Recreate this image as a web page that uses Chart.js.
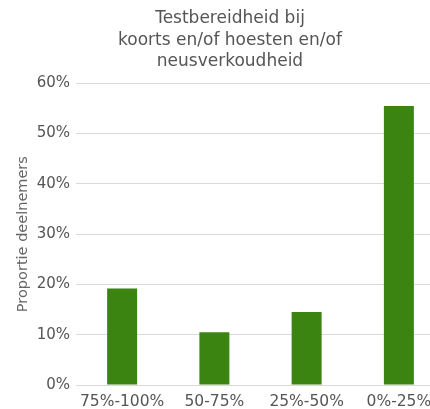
<!DOCTYPE html>
<html lang="nl">
<head>
<meta charset="UTF-8">
<title>Testbereidheid</title>
<script src="https://cdn.jsdelivr.net/npm/chart.js"></script>
<style>
  html, body { margin: 0; padding: 0; background: #fff; overflow: hidden; }
  #wrap { width: 445px; height: 409px; }
</style>
</head>
<body>
<div id="wrap"><canvas id="chart"></canvas></div>
<script>
  const categories = ['75%-100%', '50-75%', '25%-50%', '0%-25%'];
  const proportions = [19.2, 10.5, 14.5, 55.5];
  const titleLines = ['Testbereidheid bij', 'koorts en/of hoesten en/of', 'neusverkoudheid'];

  new Chart(document.getElementById('chart'), {
    type: 'bar',
    data: {
      labels: categories,
      datasets: [{
        data: proportions,
        backgroundColor: '#3b8412',
        categoryPercentage: 1,
        barPercentage: 0.325
      }]
    },
    options: {
      responsive: true,
      maintainAspectRatio: false,
      animation: false,
      layout: { padding: { left: 15, right: 0, top: 8, bottom: 0 } },
      plugins: {
        legend: { display: false },
        tooltip: { enabled: false },
        title: {
          display: true,
          text: titleLines,
          color: '#555',
          font: { family: 'DejaVu Sans', size: 17, weight: 'normal', lineHeight: 1.27 },
          padding: { top: 0, bottom: 10.5 }
        }
      },
      scales: {
        x: {
          grid: { display: false, drawTicks: false },
          border: { display: false },
          ticks: { color: '#555', font: { family: 'DejaVu Sans', size: 15.5 }, padding: 8, maxRotation: 0, autoSkip: false },
          afterFit: s => { s.height = 24; }
        },
        y: {
          min: 0,
          max: 60,
          grid: { color: '#d9d9d9', drawTicks: false },
          border: { display: false },
          ticks: {
            stepSize: 10,
            color: '#555',
            padding: 6,
            font: { family: 'DejaVu Sans', size: 15 },
            callback: v => v + '%'
          },
          title: {
            display: true,
            text: 'Proportie deelnemers',
            color: '#666',
            font: { family: 'DejaVu Sans', size: 14.5 },
            padding: 0
          },
          afterFit: s => { s.width = 61; }
        }
      }
    }
  });
</script>
</body>
</html>
